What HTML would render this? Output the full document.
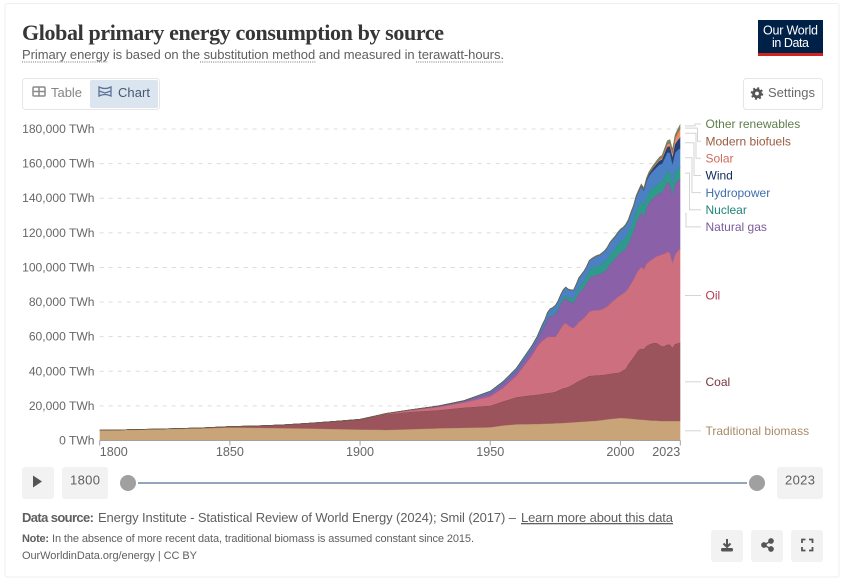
<!DOCTYPE html>
<html lang="en">
<head>
<meta charset="utf-8">
<title>Global primary energy consumption by source</title>
<style>
html,body{margin:0;padding:0;background:#fff;}
svg{display:block;font-family:"Liberation Sans",sans-serif;}
</style>
</head>
<body>
<svg id="page" width="853" height="585" viewBox="0 0 853 585" xmlns="http://www.w3.org/2000/svg">
  <rect x="5" y="3.5" width="834" height="573.5" rx="2" fill="#fff" stroke="#efefef"/>
  <text x="22" y="40" font-family="'Liberation Serif',serif" font-weight="700" font-size="22" fill="#363636" textLength="422" lengthAdjust="spacing">Global primary energy consumption by source</text>
  <text x="22" y="59" font-size="13" fill="#5f5f5f" textLength="482" lengthAdjust="spacing">Primary energy is based on the substitution method and measured in terawatt-hours.</text>
  <g stroke="#777" stroke-width="1" stroke-dasharray="1 1.2">
    <line x1="22" x2="108" y1="62" y2="62"/>
    <line x1="200" x2="316" y1="62" y2="62"/>
    <line x1="416" x2="504" y1="62" y2="62"/>
  </g>
  <g>
    <rect x="758" y="20" width="65" height="36" fill="#002147"/>
    <rect x="758" y="53" width="65" height="3" fill="#ce261e"/>
    <text x="790.5" y="34.5" text-anchor="middle" font-size="12.5" fill="#fff" textLength="55" lengthAdjust="spacing">Our World</text>
    <text x="790.5" y="47" text-anchor="middle" font-size="12.5" fill="#fff" textLength="37" lengthAdjust="spacing">in Data</text>
  </g>
  <g>
    <rect x="22.5" y="78.5" width="137" height="31" rx="3" fill="#fff" stroke="#e6e6e6"/>
    <rect x="90" y="80" width="68" height="28" rx="2" fill="#dbe5f0"/>
    <g fill="none" stroke="#8a8a8a" stroke-width="1.5">
      <rect x="33" y="87" width="12" height="9" rx="1"/>
      <line x1="33" x2="45" y1="91.5" y2="91.5"/>
      <line x1="39" x2="39" y1="87" y2="96"/>
    </g>
    <text x="51" y="97" font-size="13" fill="#858585" textLength="31" lengthAdjust="spacing">Table</text>
    <path d="M99 87 q6 3 12 0 v9 q-6 -3 -12 0 z M99 91 l6 2 l6 -2" fill="none" stroke="#5b7296" stroke-width="1.3"/>
    <text x="118" y="97" font-size="13" fill="#44586f" textLength="32" lengthAdjust="spacing">Chart</text>
  </g>
  <g>
    <rect x="743.5" y="78.5" width="79" height="31" rx="3" fill="#fff" stroke="#e6e6e6"/>
    <circle cx="757" cy="93.5" r="3.4" fill="none" stroke="#555" stroke-width="3"/>
    <circle cx="757" cy="93.5" r="5.4" fill="none" stroke="#555" stroke-width="1.8" stroke-dasharray="2 2.25"/>
    <text x="768" y="97" font-size="13" fill="#6a6a6a" textLength="47" lengthAdjust="spacing">Settings</text>
  </g>
  <g id="grid"></g>
  <g id="areas"></g>
  <g id="axes"></g>
  <g id="legend"></g>
  <g>
    <rect x="22" y="467" width="32" height="32" rx="3" fill="#f2f2f2"/>
    <polygon points="33,475.5 33,487.5 42,481.5" fill="#555"/>
    <rect x="62" y="467" width="46" height="32" rx="3" fill="#f2f2f2"/>
    <text x="85" y="484.5" font-size="13" fill="#5f5f5f" text-anchor="middle" textLength="30" lengthAdjust="spacing">1800</text>
    <line x1="138" x2="747" y1="483" y2="483" stroke="#93a6bb" stroke-width="2"/>
    <circle cx="128" cy="483" r="8" fill="#a0a0a0"/>
    <circle cx="757" cy="483" r="8" fill="#a0a0a0"/>
    <rect x="777" y="467" width="46" height="32" rx="3" fill="#f2f2f2"/>
    <text x="800" y="484.5" font-size="13" fill="#5f5f5f" text-anchor="middle" textLength="30" lengthAdjust="spacing">2023</text>
  </g>
  <g>
    <text x="22" y="522" font-size="13" font-weight="700" fill="#5f5f5f" textLength="72" lengthAdjust="spacing">Data source:</text>
    <text x="98" y="522" font-size="13" fill="#5f5f5f" textLength="418" lengthAdjust="spacing">Energy Institute - Statistical Review of World Energy (2024); Smil (2017) –</text>
    <text x="521" y="522" font-size="13" fill="#5f5f5f" text-decoration="underline" textLength="152" lengthAdjust="spacing">Learn more about this data</text>
    <text x="22" y="542" font-size="11" font-weight="700" fill="#5f5f5f" textLength="27" lengthAdjust="spacing">Note:</text>
    <text x="52" y="542" font-size="11" fill="#5f5f5f" textLength="422" lengthAdjust="spacing">In the absence of more recent data, traditional biomass is assumed constant since 2015.</text>
    <text x="22" y="559" font-size="11" fill="#5f5f5f" textLength="175" lengthAdjust="spacing">OurWorldinData.org/energy | CC BY</text>
  </g>
  <g>
    <rect x="711" y="530" width="32" height="32" rx="3" fill="#f2f2f2"/>
    <path d="M727 539 v7 M723.5 543.5 l3.5 3.5 l3.5 -3.5" fill="none" stroke="#555" stroke-width="2"/>
    <rect x="721" y="548" width="12" height="3.5" rx="1.5" fill="#555"/>
    <rect x="751" y="530" width="32" height="32" rx="3" fill="#f2f2f2"/>
    <g fill="#555" stroke="#555" stroke-width="1.3">
      <line x1="764" y1="545" x2="771" y2="541"/>
      <line x1="764" y1="545" x2="771" y2="549"/>
      <circle cx="764" cy="545" r="2.2"/>
      <circle cx="771" cy="541" r="2.2"/>
      <circle cx="771" cy="549" r="2.2"/>
    </g>
    <rect x="791" y="530" width="32" height="32" rx="3" fill="#f2f2f2"/>
    <path d="M802 543 v-3.5 h3.5 M809 539.5 h3.5 v3.5 M812.5 547 v3.5 h-3.5 M805.5 550.5 h-3.5 v-3.5" fill="none" stroke="#555" stroke-width="1.8"/>
  </g>
</svg>
<script>
const years = [1800,1810,1820,1830,1840,1850,1860,1870,1880,1890,1900,1910,1920,1930,1940,1950,1955,1960,
  1965,1966,1967,1968,1969,1970,1971,1972,1973,1974,1975,1976,1977,1978,1979,
  1980,1981,1982,1983,1984,1985,1986,1987,1988,1989,
  1990,1991,1992,1993,1994,1995,1996,1997,1998,1999,2000,
  2001,2002,2003,2004,2005,2006,2007,2008,2009,2010,2011,2012,2013,2014,2015,2016,2017,2018,2019,2020,2021,2022,2023];
const biomass = [5900,6100,6400,6700,7000,7500,7300,7100,6900,6600,6300,6100,6500,7000,7300,7600,8700,9300,
  9400,9450,9500,9500,9500,9600,9650,9700,9750,9800,9900,9950,10000,10100,10200,
  10300,10400,10500,10600,10700,10800,10900,11000,11100,11200,
  11300,11400,11600,11800,12000,12200,12400,12500,12700,12800,13000,
  12900,12800,12700,12600,12400,12300,12100,12000,11900,11700,11600,11500,11500,11400,11300,11200,11200,11200,11200,11200,11200,11200,11200];
const coal = [97,128,153,250,360,570,1150,1900,3030,4300,5700,9000,10100,10500,11700,12500,13800,15700,
  16500,16600,16700,16900,17100,17300,17500,17700,17800,18000,18200,18900,19500,20000,20300,
  20700,21400,22000,22900,23600,24200,24900,25500,26200,26200,
  26200,26200,26100,26100,26000,26100,26100,26300,26200,26200,26500,
  27600,28500,31300,33400,35600,37900,40300,41000,40900,42800,43900,44500,44900,44900,43900,43100,43400,44300,44100,42400,44600,44900,45400];
const oil = [0,0,0,0,0,0,5,20,50,100,180,330,1000,1800,3000,5400,8000,12300,
  21200,23050,25400,27850,29400,30600,31650,32400,32450,32200,31900,33150,35000,36700,37500,
  35500,33700,32500,33000,34200,34500,35200,36000,37200,37600,
  37700,37700,37800,37900,38800,39200,40500,41700,42600,44000,44500,
  44500,44700,44000,44500,45000,45800,46100,47400,46200,47500,48000,48500,49100,50200,51800,53200,53400,53500,53200,49100,51700,53400,54400];
const gas = [0,0,0,0,0,0,0,0,0,40,60,180,250,550,800,2100,2700,2900,
  3700,3800,3850,3900,5100,6700,7900,10400,11900,12100,13000,13300,13950,14110,14200,
  14200,14400,14500,15700,16800,17200,17400,18200,19000,19700,
  20000,20300,20500,20900,21000,21800,22800,23000,23500,24000,24500,
  24300,24800,25500,26500,27500,29500,30500,31300,30500,32000,33800,34700,35000,35200,36000,35500,38100,40000,39900,39000,41000,40500,40100];
const nuclear = [0,0,0,0,0,0,0,0,0,0,0,0,0,0,0,0,0,0,
  50,100,130,150,200,300,350,450,600,750,1000,1190,1450,1690,1780,
  2000,2350,2570,2820,3340,3800,4000,4300,4700,4800,
  5000,5300,5350,5500,5550,5800,6000,6000,6150,6300,6500,
  6800,6850,6700,6900,6900,6950,6700,6650,6500,6800,6500,6200,6200,6300,6400,6500,6550,6700,6900,6600,6800,6600,6800];
const hydro = [0,0,0,0,0,0,0,0,0,0,10,30,60,130,300,900,1000,1500,
  1750,1800,1800,1750,2200,2500,2900,3350,3500,3950,4000,4000,4100,4400,4600,
  4650,4750,4850,5100,5250,5300,5400,5400,5600,5550,
  5700,5800,5800,6100,6150,6450,6500,6600,6650,6650,6700,
  6600,6700,6800,7300,7600,7900,8000,8400,8300,8900,9100,9400,9700,10000,10000,10300,10400,10700,10900,11100,10900,11200,11000];
const wind = [0,0,0,0,0,0,0,0,0,0,0,0,0,0,0,0,0,0,
  0,0,0,0,0,0,0,0,0,0,0,0,0,0,0,
  0,0,0,0,0,0,0,0,0,0,
  10,12,14,17,20,25,28,35,50,60,70,
  90,110,150,200,260,340,450,580,730,910,1150,1400,1700,1900,2200,2500,3000,3300,3700,4200,5000,5700,6200];
const solar = [0,0,0,0,0,0,0,0,0,0,0,0,0,0,0,0,0,0,
  0,0,0,0,0,0,0,0,0,0,0,0,0,0,0,
  0,0,0,0,0,0,0,0,0,0,
  1,1,1,1,1,1,2,2,2,2,3,
  3,4,5,7,10,14,20,30,50,90,170,260,360,490,630,830,1130,1470,1800,2300,3000,3900,5000];
const biofuels = [0,0,0,0,0,0,0,0,0,0,0,0,0,0,0,0,0,0,
  0,0,0,0,0,0,0,0,0,0,0,0,0,0,0,
  0,0,0,0,0,0,0,0,0,0,
  20,20,20,25,25,25,30,30,30,30,30,
  50,60,70,80,100,140,190,260,300,340,350,370,410,450,480,500,540,600,660,620,700,750,800];
const otherRenewables = [0,0,0,0,0,0,0,0,0,0,0,0,0,0,0,0,0,0,
  100,100,110,110,120,120,130,130,140,140,150,150,160,160,170,
  180,190,200,210,230,250,260,270,280,290,
  300,310,320,330,340,350,360,380,390,410,430,
  450,480,500,540,570,600,630,660,690,750,800,870,950,1000,1100,1180,1270,1380,1470,1570,1650,1700,1800];

const seriesNames = ["Traditional biomass","Coal","Oil","Natural gas","Nuclear","Hydropower","Wind","Solar","Modern biofuels","Other renewables"];
const seriesValues = [biomass,coal,oil,gas,nuclear,hydro,wind,solar,biofuels,otherRenewables];
const fillColors = ["#c8a478","#9b535c","#cd6f7f","#8a60a8","#2f9a8c","#4c80c4","#23407a","#ee8a6c","#a5704f","#6f8f5f"];
const lineColors = ["#a88452","#6e2f38","#b4485e","#6b3f8c","#1a7a6e","#3a5f96","#0f2a5c","#d8694a","#7d4e30","#4f6b40"];
const labelColors = ["#a98a68","#7a3540","#b13a50","#7c5a9c","#1f8378","#3f6eae","#0f2a5c","#cf6a5c","#9c5a3c","#5f7d4a"];
const yTicks = [0,20000,40000,60000,80000,100000,120000,140000,160000,180000];
const xTicks = [1800,1850,1900,1950,2000,2023];

const SVG_NS = "http://www.w3.org/2000/svg";
const x0 = 99.7, x1 = 680.3, y0 = 440.5, y1 = 129;
const yearMin = 1800, yearMax = 2023, valueMax = 180000;
function xScale(year){ return x0 + (year - yearMin) * (x1 - x0) / (yearMax - yearMin); }
function yScale(v){ return y0 - v * (y0 - y1) / valueMax; }
function mk(tag, attrs, parent){
  const el = document.createElementNS(SVG_NS, tag);
  for (const k in attrs) el.setAttribute(k, attrs[k]);
  parent.appendChild(el);
  return el;
}
function slug(s){ return s.toLowerCase().replace(/[^a-z0-9]+/g, "-"); }
function fmt(v){ return v.toLocaleString("en-US") + " TWh"; }

const grid = document.getElementById("grid");
const axes = document.getElementById("axes");
const areas = document.getElementById("areas");
const legend = document.getElementById("legend");

yTicks.forEach(function(t){
  if (t > 0) {
    const gl = mk("line", {x1:x0, x2:x1, y1:yScale(t), y2:yScale(t), stroke:"#dcdcdc", "stroke-dasharray":"4 5"}, grid);
    
    
  }
  const lb = mk("text", {x:94.5, y:yScale(t)+4, "text-anchor":"end", "font-size":12.1, fill:"#666"}, axes);
  lb.textContent = fmt(t);
  
  
});

const cumulative = years.map(function(){ return 0; });
const stacks = seriesValues.map(function(vals){
  const bottom = cumulative.slice();
  vals.forEach(function(v, i){ cumulative[i] += v; });
  return {bottom: bottom, top: cumulative.slice()};
});
stacks.forEach(function(s, idx){
  let d = "";
  years.forEach(function(yr, i){ d += (i ? "L" : "M") + xScale(yr).toFixed(2) + " " + yScale(s.top[i]).toFixed(2); });
  for (let i = years.length - 1; i >= 0; i--) d += "L" + xScale(years[i]).toFixed(2) + " " + yScale(s.bottom[i]).toFixed(2);
  d += "Z";
  const area = mk("path", {d:d, fill:fillColors[idx]}, areas);
  
  
  let t = "";
  years.forEach(function(yr, i){ t += (i ? "L" : "M") + xScale(yr).toFixed(2) + " " + yScale(s.top[i]).toFixed(2); });
  const line = mk("path", {d:t, fill:"none", stroke:lineColors[idx], "stroke-width":0.55, "stroke-opacity":0.75}, areas);
  
  
});

const base = mk("line", {x1:x0, x2:x1, y1:y0, y2:y0, stroke:"#a1a1a1", "stroke-width":1}, axes);


xTicks.forEach(function(yr, i){
  const tx = xScale(yr);
  const tk = mk("line", {x1:tx, x2:tx, y1:y0, y2:y0+5, stroke:"#a1a1a1"}, axes);
  
  
  const anchor = i === 0 ? "start" : (i === xTicks.length - 1 ? "end" : "middle");
  const lb = mk("text", {x:tx, y:456, "text-anchor":anchor, "font-size":12.6, fill:"#666"}, axes);
  lb.textContent = String(yr);
  
  
});

const lastIdx = years.length - 1;
const order = seriesNames.map(function(_, i){ return i; }).reverse();
const gap = 17.15;
let prevY = 124 - gap;
const elbowXs = [697.5, 696, 694, 692, 689.5, 686];
order.forEach(function(idx, rank){
  const s = stacks[idx];
  const mid = yScale((s.top[lastIdx] + s.bottom[lastIdx]) / 2);
  const ly = Math.max(mid - (rank === 0 ? 2 : 0), prevY + gap);
  prevY = ly;
  let d;
  if (Math.abs(ly - mid) < 1.5 && rank > 0) {
    d = "M685 " + mid.toFixed(1) + "H701";
  } else {
    const ex = rank === 0 ? 695 : elbowXs[rank - 1];
    d = "M685 " + mid.toFixed(1) + "H" + ex + "V" + ly.toFixed(1) + "H701";
  }
  const c = mk("path", {d:d, fill:"none", stroke:"#d4d4d4", "stroke-width":1}, legend);
  
  
  const t = mk("text", {x:705.5, y:(ly+4.2).toFixed(1), "font-size":12, fill:labelColors[idx]}, legend);
  t.textContent = seriesNames[idx];
  
  
});
</script>
</body>
</html>
